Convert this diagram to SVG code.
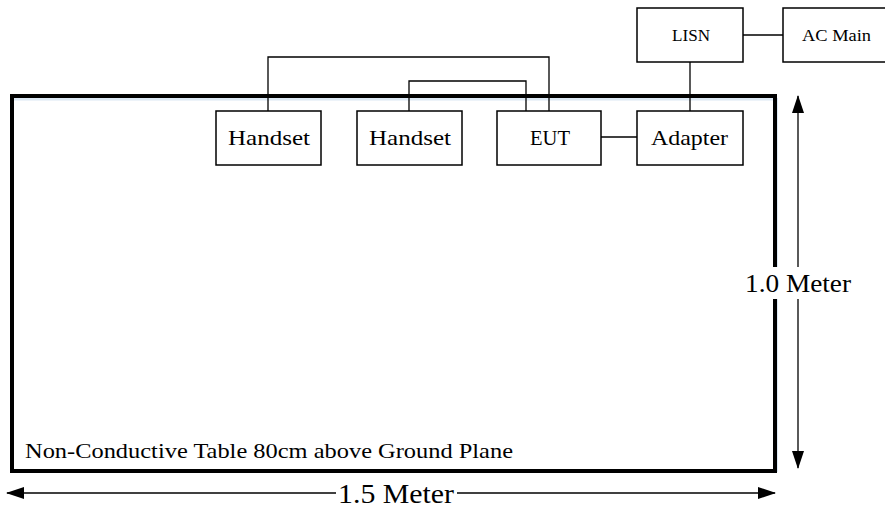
<svg xmlns="http://www.w3.org/2000/svg" width="885" height="509" viewBox="0 0 885 509">
<style>
.box{fill:#fff;stroke:#000;stroke-width:1.5}
.w{fill:none;stroke:#000;stroke-width:1.3}
.t{font-family:"Liberation Serif",serif;fill:#000}
</style>
<defs>
<marker id="ah" markerWidth="18" markerHeight="12" refX="17" refY="6" orient="auto" markerUnits="userSpaceOnUse">
<path d="M0,0 L18,6 L0,12 Z" fill="#000"/>
</marker>
</defs>
<rect width="885" height="509" fill="#fff"/>
<g id="table">
<line x1="14" y1="99" x2="773" y2="99" stroke="#dce8f4" stroke-width="3"/>
<line x1="777" y1="98" x2="777" y2="472" stroke="#dce8f4" stroke-width="2"/>
<rect x="12" y="96" width="763" height="375" fill="none" stroke="#000" stroke-width="4"/>
<text class="t" x="25" y="458" font-size="22" textLength="488" lengthAdjust="spacingAndGlyphs">Non-Conductive Table 80cm above Ground Plane</text>
</g>
<g id="connectors">
<polyline class="w" points="268,111 268,57 549,57 549,111"/>
<polyline class="w" points="409,111 409,81 526,81 526,111"/>
<line class="w" x1="601" y1="137" x2="637" y2="137"/>
<line class="w" x1="690" y1="62" x2="690" y2="111"/>
<line class="w" x1="743" y1="35" x2="783" y2="35"/>
</g>
<g id="handset1"><rect class="box" x="216" y="111" width="105" height="54"/><text class="t" x="228" y="145" font-size="21" textLength="82" lengthAdjust="spacingAndGlyphs">Handset</text></g>
<g id="handset2"><rect class="box" x="357" y="111" width="105" height="54"/><text class="t" x="369" y="145" font-size="21" textLength="82" lengthAdjust="spacingAndGlyphs">Handset</text></g>
<g id="eut"><rect class="box" x="497" y="111" width="104" height="54"/><text class="t" x="530" y="145" font-size="21" textLength="40" lengthAdjust="spacingAndGlyphs">EUT</text></g>
<g id="adapter"><rect class="box" x="637" y="111" width="106" height="54"/><text class="t" x="651" y="145" font-size="21" textLength="77" lengthAdjust="spacingAndGlyphs">Adapter</text></g>
<g id="lisn"><rect class="box" x="637" y="8" width="106" height="54"/><text class="t" x="672" y="41" font-size="16" textLength="38" lengthAdjust="spacingAndGlyphs">LISN</text></g>
<g id="acmain"><rect class="box" x="783" y="8" width="110" height="54"/><text class="t" x="802" y="41" font-size="16" textLength="69" lengthAdjust="spacingAndGlyphs">AC Main</text></g>
<g id="dim-v">
<line x1="798" y1="280" x2="798" y2="96" stroke="#000" stroke-width="1.3" marker-end="url(#ah)"/>
<line x1="798" y1="280" x2="798" y2="468" stroke="#000" stroke-width="1.3" marker-end="url(#ah)"/>
<rect x="742" y="267" width="113" height="32" fill="#fff"/>
<text class="t" x="745" y="292" font-size="26" textLength="106" lengthAdjust="spacingAndGlyphs">1.0 Meter</text>
</g>
<g id="dim-h">
<line x1="370" y1="493" x2="7" y2="493" stroke="#000" stroke-width="1.3" marker-end="url(#ah)"/>
<line x1="370" y1="493" x2="775" y2="493" stroke="#000" stroke-width="1.3" marker-end="url(#ah)"/>
<rect x="336" y="478" width="121" height="31" fill="#fff"/>
<text class="t" x="338" y="503" font-size="27" textLength="116" lengthAdjust="spacingAndGlyphs">1.5 Meter</text>
</g>
</svg>
